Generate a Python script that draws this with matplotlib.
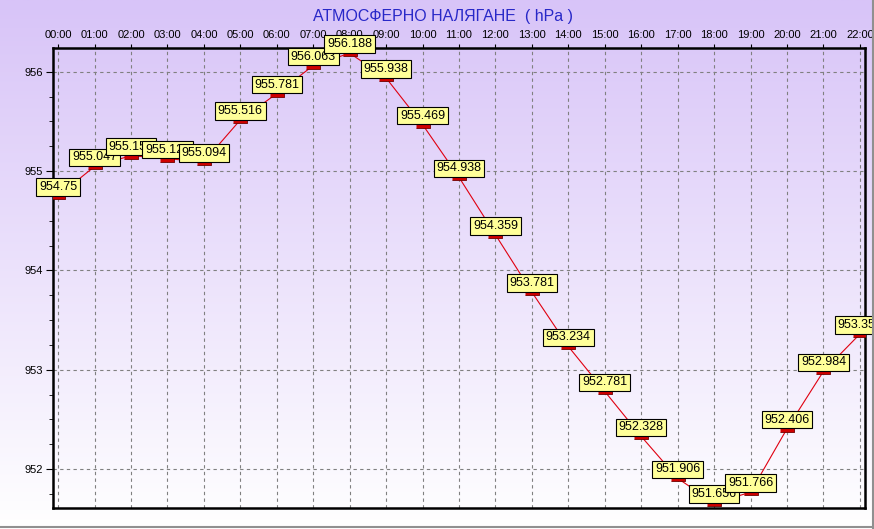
import numpy as np
import matplotlib
matplotlib.use('Agg')
from matplotlib import pyplot as plt
from matplotlib.lines import Line2D
from matplotlib.ticker import MultipleLocator

plt.rcParams['font.family'] = ['Liberation Sans', 'DejaVu Sans']

hours = ['00:00', '01:00', '02:00', '03:00', '04:00', '05:00', '06:00', '07:00',
         '08:00', '09:00', '10:00', '11:00', '12:00', '13:00', '14:00', '15:00',
         '16:00', '17:00', '18:00', '19:00', '20:00', '21:00', '22:00']
pressure = [954.75, 955.047, 955.156, 955.125, 955.094, 955.516, 955.781, 956.063,
            956.188, 955.938, 955.469, 954.938, 954.359, 953.781, 953.234, 952.781,
            952.328, 951.906, 951.656, 951.766, 952.406, 952.984, 953.359]

fig = plt.figure(figsize=(8.74, 5.29), dpi=100)

# gradient background over the whole picture
bg = fig.add_axes([0, 0, 1, 1], zorder=-10)
grad = np.linspace(0, 1, 256).reshape(-1, 1)
top = np.array([216, 196, 248]) / 255
bottom = np.array([255, 255, 255]) / 255
img = top * (1 - grad[..., None]) + bottom * grad[..., None]
img = np.repeat(img, 2, axis=1)
bg.imshow(img, aspect='auto', extent=[0, 1, 0, 1])
bg.axis('off')

ax = fig.add_axes([53 / 874, 21 / 529, 812 / 874, 460 / 529])
ax.set_facecolor('none')

x = np.arange(len(hours))
rect = [(-1, -0.45), (1, -0.45), (1, 0.45), (-1, 0.45)]
ax.plot(x, pressure, color='#e00010', linewidth=0.8, zorder=3)
ax.plot(x, pressure, linestyle='none', marker=rect, markersize=10,
        markerfacecolor='#d00000', markeredgecolor='#700000',
        markeredgewidth=0.6, zorder=4)

for i, (xi, v) in enumerate(zip(x, pressure)):
    ax.annotate(f'{v:g}', (xi, v), xytext=(0, 3), textcoords='offset pixels',
                ha='center', va='bottom', fontsize=9, color='black',
                annotation_clip=False, zorder=10 + i,
                bbox=dict(boxstyle='square,pad=0.22', facecolor='#ffff99',
                          edgecolor='black', linewidth=0.8))

ax.set_xlim(-0.14, 22.14)
ax.set_ylim(951.607, 956.24)
ax.set_xticks(x)
ax.set_xticklabels(hours)
ax.xaxis.tick_top()
ax.set_yticks([952, 953, 954, 955, 956])
ax.yaxis.set_minor_locator(MultipleLocator(0.25))
ax.tick_params(axis='x', labelsize=8, length=3, pad=3)
ax.tick_params(axis='y', which='major', labelsize=8, length=5, pad=2)
ax.tick_params(axis='y', which='minor', length=3)
ax.grid(True, color='#808080', linestyle=(0, (3, 3)), linewidth=0.8)
for s in ax.spines.values():
    s.set_linewidth(1.8)

fig.text(443 / 874, 1 - 17 / 529, 'АТМОСФЕРНО НАЛЯГАНЕ  ( hPa )', ha='center',
         va='center', fontsize=11.5, color='#2828c8')

fig.add_artist(Line2D([0, 1], [2 / 529, 2 / 529], color='#909090', linewidth=1.5,
                      transform=fig.transFigure))
fig.add_artist(Line2D([872.5 / 874, 872.5 / 874], [0, 1], color='#909090',
                      linewidth=1.5, transform=fig.transFigure))

fig.savefig('out.png', dpi=100)
